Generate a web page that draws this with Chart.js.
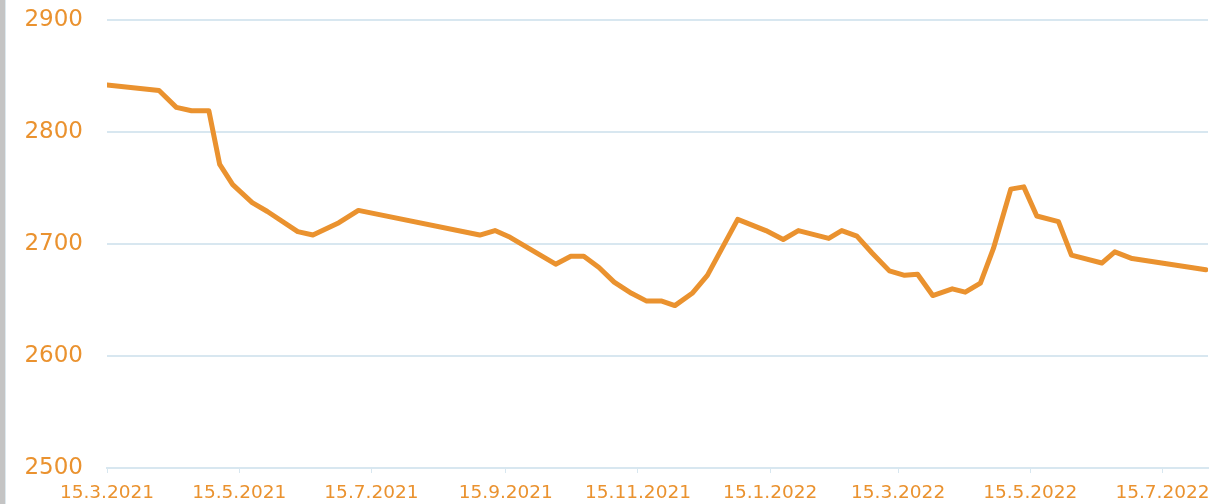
<!DOCTYPE html>
<html>
<head>
<meta charset="utf-8">
<script src="https://cdn.jsdelivr.net/npm/chart.js@4/dist/chart.umd.min.js"></script>
<style>
  html, body { margin: 0; padding: 0; background: #fff; }
  #wrap { position: relative; width: 1229px; height: 504px; }
  #bar { position: absolute; left: 0; top: 0; width: 5px; height: 504px; background: #c4c4c4; border-right: 1px solid #dde8ee; z-index: 2; }
  canvas { position: absolute; left: 0; top: 0; }
</style>
</head>
<body>
<div id="wrap"><div id="bar"></div><canvas id="c" width="1229" height="504"></canvas></div>
<script>
const dates = [
  "2021-03-15","2021-04-08","2021-04-16","2021-04-23","2021-05-01","2021-05-06","2021-05-12",
  "2021-05-21","2021-05-28","2021-06-11","2021-06-18","2021-06-30","2021-07-09","2021-09-03",
  "2021-09-10","2021-09-17","2021-10-08","2021-10-15","2021-10-21","2021-10-28","2021-11-04",
  "2021-11-12","2021-11-19","2021-11-26","2021-12-02","2021-12-10","2021-12-17","2021-12-31",
  "2022-01-13","2022-01-21","2022-01-28","2022-02-11","2022-02-17","2022-02-24","2022-03-03",
  "2022-03-11","2022-03-18","2022-03-24","2022-03-31","2022-04-09","2022-04-15","2022-04-22",
  "2022-04-28","2022-05-06","2022-05-12","2022-05-18","2022-05-28","2022-06-03","2022-06-17",
  "2022-06-23","2022-07-01","2022-08-04"
];
const values = [
  2842,2837,2822,2819,2819,2771,2753,
  2737,2729,2711,2708,2719,2730,2708,
  2712,2706,2682,2689,2689,2679,2666,
  2656,2649,2649,2645,2656,2672,2722,
  2712,2704,2712,2705,2712,2707,2692,
  2676,2672,2673,2654,2660,2657,2665,
  2696,2749,2751,2725,2720,2690,2683,
  2693,2687,2677
];
const tickLabels = ["15.3.2021","15.5.2021","15.7.2021","15.9.2021","15.11.2021","15.1.2022","15.3.2022","15.5.2022","15.7.2022"];
const yTicks = [2500, 2600, 2700, 2800, 2900];

const isoTs = s => { const [y,m,d] = s.split("-").map(Number); return Date.UTC(y, m-1, d); };
const dmyTs = s => { const [d,m,y] = s.split(".").map(Number); return Date.UTC(y, m-1, d); };

const orange = "#EA922F";
const gridCol = "#d8e7f0";
const points = dates.map((d, i) => ({ x: isoTs(d), y: values[i] }));

new Chart(document.getElementById("c"), {
  type: "line",
  data: { datasets: [{ data: points, borderColor: orange, borderWidth: 5, pointRadius: 0, tension: 0,
    borderJoinStyle: "round", borderCapStyle: "round", fill: false }] },
  options: {
    responsive: false, animation: false,
    layout: { padding: { top: 20, right: 21, left: 0, bottom: 0 } },
    plugins: { legend: { display: false }, tooltip: { enabled: false } },
    scales: {
      x: {
        type: "linear",
        min: dmyTs(tickLabels[0]), max: isoTs(dates[dates.length-1]) + 86400000,
        afterBuildTicks: s => { s.ticks = tickLabels.map(t => ({ value: dmyTs(t) })); },
        afterFit: s => { s.height = 36; },
        grid: { drawOnChartArea: false, drawTicks: true, tickLength: 5, color: gridCol, lineWidth: 1 },
        border: { display: true, color: gridCol, width: 2 },
        ticks: {
          autoSkip: false, maxRotation: 0, padding: 9, color: orange,
          font: { family: "'DejaVu Sans', Verdana, sans-serif", size: 18.5 },
          callback: (v) => { const i = tickLabels.findIndex(t => dmyTs(t) === v); return i >= 0 ? tickLabels[i] : ""; }
        }
      },
      y: {
        min: yTicks[0], max: yTicks[yTicks.length-1],
        afterBuildTicks: s => { s.ticks = yTicks.map(v => ({ value: v })); },
        afterFit: s => { s.width = 107; },
        grid: { drawTicks: true, tickLength: 24, tickColor: "rgba(0,0,0,0)", color: gridCol, lineWidth: 2 },
        border: { display: false },
        ticks: { padding: 0, color: orange, font: { family: "'DejaVu Sans', Verdana, sans-serif", size: 23 },
          callback: v => String(v) }
      }
    }
  }
});
</script>
</body>
</html>
